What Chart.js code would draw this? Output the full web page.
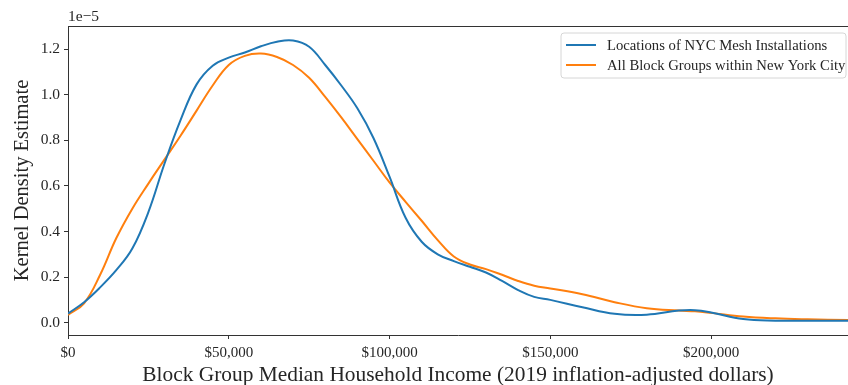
<!DOCTYPE html>
<html>
<head>
<meta charset="utf-8">
<script src="https://cdn.jsdelivr.net/npm/chart.js@4.4.1/dist/chart.umd.min.js"></script>
<style>
  html, body { margin: 0; padding: 0; background: #ffffff; }
  #wrap { width: 848px; height: 385px; position: relative; }
</style>
</head>
<body>
<div id="wrap"><canvas id="kde"></canvas></div>
<script>
// Block group median household income (2019 dollars)
const incomes = [0, 5000, 10000, 15000, 20000, 25000, 30000, 35000, 40000, 45000,
  50000, 55000, 60000, 65000, 70000, 75000, 80000, 85000, 90000, 95000,
  100000, 105000, 110000, 115000, 120000, 125000, 130000, 135000, 140000, 145000,
  150000, 160000, 170000, 180000, 190000, 195000, 200000, 210000, 220000, 230000, 242600];

// Kernel density estimates, in units of 1e-5
const meshDensity = [0.040, 0.090, 0.155, 0.230, 0.325, 0.485, 0.697, 0.888, 1.045, 1.127,
  1.162, 1.185, 1.212, 1.232, 1.237, 1.210, 1.130, 1.040, 0.940, 0.810,
  0.640, 0.460, 0.355, 0.300, 0.270, 0.245, 0.220, 0.183, 0.143, 0.113,
  0.100, 0.068, 0.039, 0.035, 0.053, 0.055, 0.045, 0.016, 0.009, 0.009, 0.009];

const cityDensity = [0.034, 0.085, 0.210, 0.370, 0.500, 0.610, 0.715, 0.820, 0.930, 1.040,
  1.130, 1.170, 1.180, 1.165, 1.130, 1.074, 0.990, 0.900, 0.805, 0.710,
  0.615, 0.530, 0.447, 0.362, 0.290, 0.255, 0.235, 0.210, 0.183, 0.162,
  0.150, 0.125, 0.090, 0.063, 0.053, 0.050, 0.043, 0.027, 0.019, 0.015, 0.012];

const seriesLabels = ['Locations of NYC Mesh Installations', 'All Block Groups within New York City'];
const xTickValues = [0, 50000, 100000, 150000, 200000];
const yTickValues = [0.0, 0.2, 0.4, 0.6, 0.8, 1.0, 1.2];

const SERIF = '"Liberation Serif", "DejaVu Serif", serif';
const INK = '#262626';
const SPINE = '#333333';

function points(xs, ys) {
  return xs.map((x, i) => ({ x: x, y: ys[i] }));
}

// Top spine, scale offset text and an in-plot legend box
const decorations = {
  id: 'decorations',
  afterDraw(chart) {
    const { ctx, chartArea: a } = chart;
    ctx.save();
    ctx.strokeStyle = SPINE;
    ctx.lineWidth = 1;
    ctx.beginPath();
    ctx.moveTo(a.left, a.top + 0.5);
    ctx.lineTo(a.right, a.top + 0.5);
    ctx.stroke();

    ctx.fillStyle = INK;
    ctx.font = '15.5px ' + SERIF;
    ctx.textAlign = 'left';
    ctx.textBaseline = 'alphabetic';
    ctx.fillText('1e\u22125', a.left, a.top - 5);

    // legend
    const bx = 561, by = 33, bw = 285, bh = 45, r = 3;
    ctx.beginPath();
    ctx.moveTo(bx + r, by);
    ctx.arcTo(bx + bw, by, bx + bw, by + bh, r);
    ctx.arcTo(bx + bw, by + bh, bx, by + bh, r);
    ctx.arcTo(bx, by + bh, bx, by, r);
    ctx.arcTo(bx, by, bx + bw, by, r);
    ctx.closePath();
    ctx.fillStyle = 'rgba(255,255,255,0.8)';
    ctx.fill();
    ctx.strokeStyle = '#d6d6d6';
    ctx.stroke();

    ctx.font = '14.7px ' + SERIF;
    ctx.textBaseline = 'middle';
    chart.data.datasets.forEach((ds, i) => {
      const y = by + 12 + i * 20;
      ctx.strokeStyle = ds.borderColor;
      ctx.lineWidth = 2;
      ctx.beginPath();
      ctx.moveTo(bx + 5, y);
      ctx.lineTo(bx + 35, y);
      ctx.stroke();
      ctx.fillStyle = INK;
      ctx.fillText(ds.label, bx + 46, y + 1);
    });
    ctx.restore();
  }
};

new Chart(document.getElementById('kde'), {
  type: 'line',
  data: {
    datasets: [
      {
        label: seriesLabels[0],
        data: points(incomes, meshDensity),
        borderColor: '#1f77b4',
        borderWidth: 2,
        pointRadius: 0,
        tension: 0.4,
        fill: false
      },
      {
        label: seriesLabels[1],
        data: points(incomes, cityDensity),
        borderColor: '#ff7f0e',
        borderWidth: 2,
        pointRadius: 0,
        tension: 0.4,
        fill: false
      }
    ]
  },
  options: {
    responsive: true,
    maintainAspectRatio: false,
    animation: false,
    layout: { padding: { top: 26, right: 0, bottom: 0, left: 0 } },
    plugins: {
      legend: { display: false },
      tooltip: { enabled: false }
    },
    scales: {
      x: {
        type: 'linear',
        min: 0,
        max: 242600,
        afterBuildTicks: s => { s.ticks = xTickValues.map(v => ({ value: v })); },
        afterFit: s => { s.height = 50; s.paddingLeft = 0; s.paddingRight = 0; },
        ticks: {
          color: INK,
          font: { family: SERIF, size: 15 },
          padding: 5,
          maxRotation: 0,
          callback: v => '$' + Number(v).toLocaleString('en-US')
        },
        grid: { display: true, drawOnChartArea: false, drawTicks: true, tickLength: 4, tickColor: SPINE, tickWidth: 1 },
        border: { display: true, color: SPINE, width: 1 },
        title: {
          display: true,
          text: 'Block Group Median Household Income (2019 inflation-adjusted dollars)',
          color: INK,
          font: { family: SERIF, size: 21.4 },
          padding: { top: 0, bottom: -3 }
        }
      },
      y: {
        type: 'linear',
        min: -0.054,
        max: 1.301,
        afterBuildTicks: s => { s.ticks = yTickValues.map(v => ({ value: v })); },
        afterFit: s => { s.width = 68; },
        ticks: {
          color: INK,
          font: { family: SERIF, size: 15.5 },
          padding: 4,
          callback: v => Number(v).toFixed(1)
        },
        grid: { display: true, drawOnChartArea: false, drawTicks: true, tickLength: 4, tickColor: SPINE, tickWidth: 1 },
        border: { display: true, color: SPINE, width: 1 },
        title: {
          display: true,
          text: 'Kernel Density Estimate',
          color: INK,
          font: { family: SERIF, size: 20.5 },
          padding: { top: 10, bottom: 0 }
        }
      }
    }
  },
  plugins: [decorations]
});
</script>
</body>
</html>
